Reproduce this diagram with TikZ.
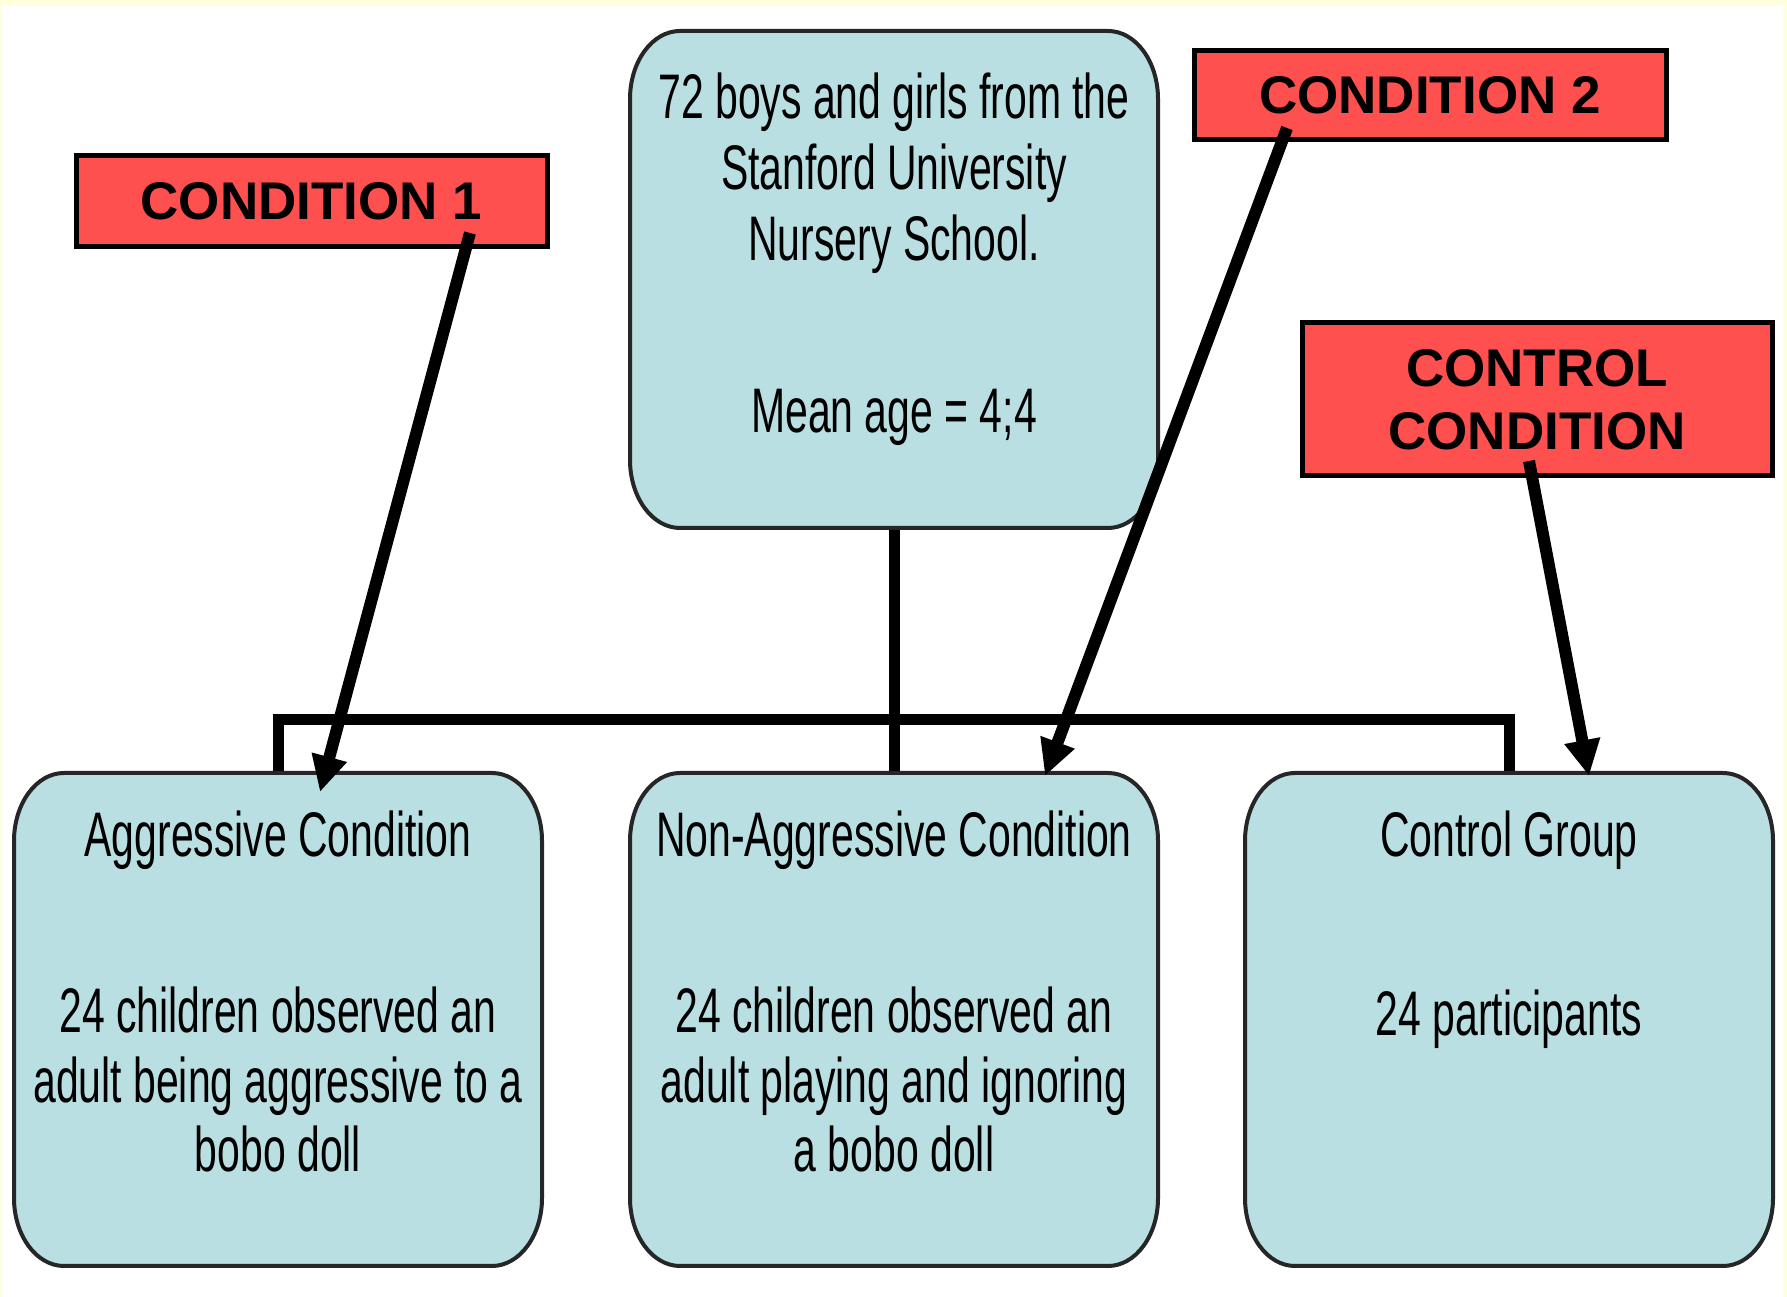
\documentclass[tikz,border=0pt]{standalone}
\usepackage{fontspec}
\setmainfont{Liberation Sans}
\newfontfamily\narrowfont[FakeStretch=0.65]{Liberation Sans}
\usetikzlibrary{arrows.meta}
\definecolor{boxfill}{HTML}{B9DFE2}
\definecolor{redfill}{HTML}{FF5050}
\definecolor{framey}{HTML}{FFFFDD}
\newcommand\myellbox[1]{%
  \draw[boxline] ([xshift=50pt]#1.north west) -- ([xshift=-50pt]#1.north east)
    arc[start angle=90,end angle=0,x radius=50pt,y radius=68pt]
    -- ([yshift=68pt]#1.south east)
    arc[start angle=0,end angle=-90,x radius=50pt,y radius=68pt]
    -- ([xshift=50pt]#1.south west)
    arc[start angle=270,end angle=180,x radius=50pt,y radius=68pt]
    -- ([yshift=-68pt]#1.north west)
    arc[start angle=180,end angle=90,x radius=50pt,y radius=68pt] -- cycle;}
\tikzset{
  ebox/.style={rectangle, draw=none, minimum width=528pt, minimum height=493pt, inner sep=0pt, outer sep=0pt},
  boxline/.style={draw=black!85, line width=4pt, fill=boxfill},
  tline/.style={font=\narrowfont\fontsize{63}{71}\selectfont, anchor=base, inner sep=0pt},
  redbox/.style={draw=black, line width=5pt, fill=redfill, font=\bfseries\fontsize{53}{63}\selectfont, align=center, inner sep=0pt, outer sep=0pt},
  treeline/.style={line width=11pt},
  arrowline/.style={line width=12pt, -{Triangle[length=36pt,width=34pt]}}
}
\begin{document}
\begin{tikzpicture}[x=1pt,y=1pt]
\useasboundingbox (0,0) rectangle (1787,1297);
\fill[framey] (0,0) rectangle (1787,1297);
\fill[white] (2,0) rectangle (1783,1291);

% blue boxes
\node[ebox, minimum height=497pt] (top) at (894,1017.5) {};
\node[ebox] (left) at (278,277.5) {};
\node[ebox] (mid) at (894,277.5) {};
\node[ebox] (right) at (1509,277.5) {};

% tree connectors
\draw[treeline] (top.south) -- (mid.north);
\draw[treeline] (left.north) -- ++(0,53) -| (right.north);

\myellbox{top}
\myellbox{left}
\myellbox{mid}
\myellbox{right}

% texts
\node[tline] (t1) at (894,1178) {72 boys and girls from the};
\node[tline] (t2) at (894,1107) {Stanford University};
\node[tline] (t3) at (894,1036) {Nursery School.};
\node[tline] (t4) at (894,864) {Mean age = 4;4};

\node[tline] (l1) at (278,440) {Aggressive Condition};
\node[tline] (l2) at (278,264) {24 children observed an};
\node[tline] (l3) at (278,194) {adult being aggressive to a};
\node[tline] (l4) at (278,125) {bobo doll};

\node[tline] (m1) at (894,440) {Non-Aggressive Condition};
\node[tline] (m2) at (894,264) {24 children observed an};
\node[tline] (m3) at (894,194) {adult playing and ignoring};
\node[tline] (m4) at (894,125) {a bobo doll};

\node[tline] (r1) at (1509,440) {Control Group};
\node[tline] (r2) at (1509,261) {24 participants};

% red labels
\node[redbox, minimum width=471pt, minimum height=91pt] (c1) at (311.5,1095.5) {CONDITION 1};
\node[redbox, minimum width=472pt, minimum height=89pt] (c2) at (1430,1201.5) {CONDITION 2};
\node[redbox, minimum width=470pt, minimum height=153pt] (cc) at (1537,897.5) {CONTROL\\CONDITION};

% arrows
\coordinate (a1s) at (470,1064);
\coordinate (a1e) at (320,505);
\coordinate (a2s) at (1287,1169);
\coordinate (a2e) at (1045,521);
\coordinate (a3s) at (1529,836);
\coordinate (a3e) at (1589,521);
\draw[arrowline] (a1s) -- (a1e);
\draw[arrowline] (a2s) -- (a2e);
\draw[arrowline] (a3s) -- (a3e);
\end{tikzpicture}
\end{document}
